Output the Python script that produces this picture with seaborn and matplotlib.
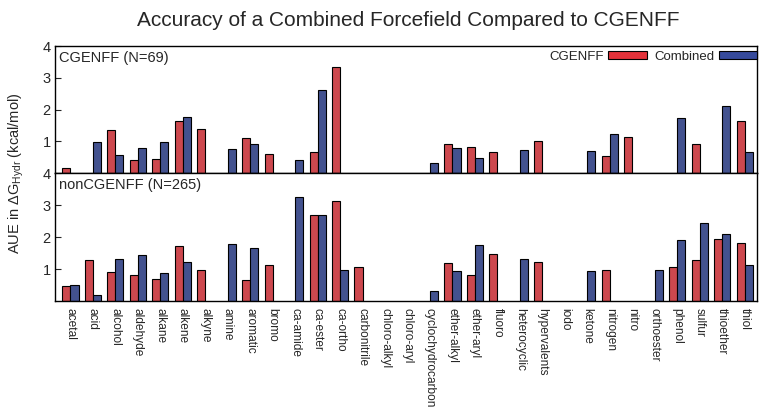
import numpy as np
import pandas as pd
import matplotlib
matplotlib.use("Agg")
import matplotlib.pyplot as plt
from matplotlib.patches import Patch
import seaborn as sns

# Functional-group categories
groups = ["acetal", "acid", "alcohol", "aldehyde", "alkane", "alkene", "alkyne",
          "amine", "aromatic", "bromo", "ca-amide", "ca-ester", "ca-ortho",
          "carbonitrile", "chloro-alkyl", "chloro-aryl", "cyclochydrocarbon",
          "ether-alkyl", "ether-aryl", "fluoro", "heterocyclic", "hypervalents",
          "iodo", "ketone", "nitrogen", "nitro", "orthoester", "phenol",
          "sulfur", "thioether", "thiol"]

nan = np.nan
# AUE (kcal/mol), molecules in the CGENFF set (N=69)
cg_cgenff = [0.17, nan, 1.35, 0.42, 0.43, 1.63, 1.38,
             nan, 1.12, 0.61, nan, 0.66, 3.35,
             nan, nan, nan, nan,
             0.93, 0.82, 0.67, nan, 1.00,
             nan, nan, 0.55, 1.15, nan, nan,
             0.93, nan, 1.64]
cg_combined = [nan, 0.97, 0.57, 0.78, 0.97, 1.76, nan,
               0.76, 0.91, nan, 0.40, 2.62, nan,
               nan, nan, nan, 0.32,
               0.78, 0.47, nan, 0.72, nan,
               nan, 0.69, 1.23, nan, nan, 1.72,
               nan, 2.10, 0.65]

# AUE (kcal/mol), molecules outside the CGENFF set (N=265)
non_cgenff = [0.46, 1.28, 0.92, 0.82, 0.68, 1.73, 0.98,
              nan, 0.66, 1.14, nan, 2.69, 3.12,
              1.08, nan, nan, nan,
              1.18, 0.83, 1.47, nan, 1.21,
              nan, nan, 0.98, nan, nan, 1.07,
              1.28, 1.93, 1.80]
non_combined = [0.50, 0.20, 1.32, 1.43, 0.88, 1.21, nan,
                1.77, 1.66, nan, 3.24, 2.70, 0.98,
                nan, nan, nan, 0.32,
                0.93, 1.74, nan, 1.31, nan,
                nan, 0.93, nan, nan, 0.98, 1.92,
                2.45, 2.11, 1.14]

methods = ["CGENFF", "Combined"]
red = "#e3323a"
blue = "#364a9c"

sns.set_style("white")
plt.rcParams["font.family"] = ["Liberation Sans", "DejaVu Sans"]
plt.rcParams["mathtext.fontset"] = "custom"
plt.rcParams["mathtext.rm"] = "Liberation Sans"
plt.rcParams["mathtext.it"] = "Liberation Sans:italic"


def long_table(a, b):
    df = pd.DataFrame({"group": groups * 2,
                       "method": [methods[0]] * len(groups) + [methods[1]] * len(groups),
                       "AUE": list(a) + list(b)})
    return df.dropna()


fig = plt.figure(figsize=(7.6, 4.2), dpi=100)
left, right = 0.072, 0.996
ax_top = fig.add_axes([left, 0.588, right - left, 0.302])
ax_bot = fig.add_axes([left, 0.283, right - left, 0.305], sharex=ax_top)

panels = [(ax_top, long_table(cg_cgenff, cg_combined), "CGENFF (N=69)"),
          (ax_bot, long_table(non_cgenff, non_combined), "nonCGENFF (N=265)")]

for ax, df, label in panels:
    sns.barplot(data=df, x="group", y="AUE", hue="method", order=groups,
                hue_order=methods, palette=[red, blue], width=0.72,
                edgecolor="black", linewidth=0.8, errorbar=None,
                legend=False, ax=ax)
    ax.set_ylim(0, 4)
    ax.set_yticks([1, 2, 3, 4])
    ax.set_xlim(-0.7, len(groups) - 0.45)
    ax.set_xlabel("")
    ax.set_ylabel("")
    ax.tick_params(axis="y", direction="in", length=4, width=0.8,
                   labelsize=10.5, left=True, pad=3)
    ax.tick_params(axis="x", length=0)
    for s in ax.spines.values():
        s.set_color("black")
        s.set_linewidth(1.0)
    ax.text(0.006, 0.96, label, transform=ax.transAxes, ha="left", va="top",
            fontsize=10.5)

ax_top.tick_params(axis="x", labelbottom=False)
ax_bot.set_xticks(range(len(groups)))
ax_bot.set_xticklabels(groups, rotation=-90, fontsize=8.6, ha="center", va="top")
ax_bot.tick_params(axis="x", pad=5)

handles = [Patch(facecolor=red, edgecolor="black", linewidth=0.8),
           Patch(facecolor=blue, edgecolor="black", linewidth=0.8)]
ax_top.legend(handles, methods, loc="upper right", bbox_to_anchor=(1.0, 0.965),
              ncol=2, frameon=False, markerfirst=False, fontsize=9.5,
              handlelength=2.9, handleheight=0.5, handletextpad=0.35,
              columnspacing=0.55, borderaxespad=0.0, borderpad=0.0)

fig.suptitle("Accuracy of a Combined Forcefield Compared to CGENFF",
             x=0.537, y=0.975, fontsize=15)
fig.text(0.022, 0.588, r"AUE in $\mathregular{\Delta G_{Hydr}}$ (kcal/mol)",
         rotation=90, ha="center", va="center", fontsize=10.5)

fig.savefig("out.png", dpi=100)
